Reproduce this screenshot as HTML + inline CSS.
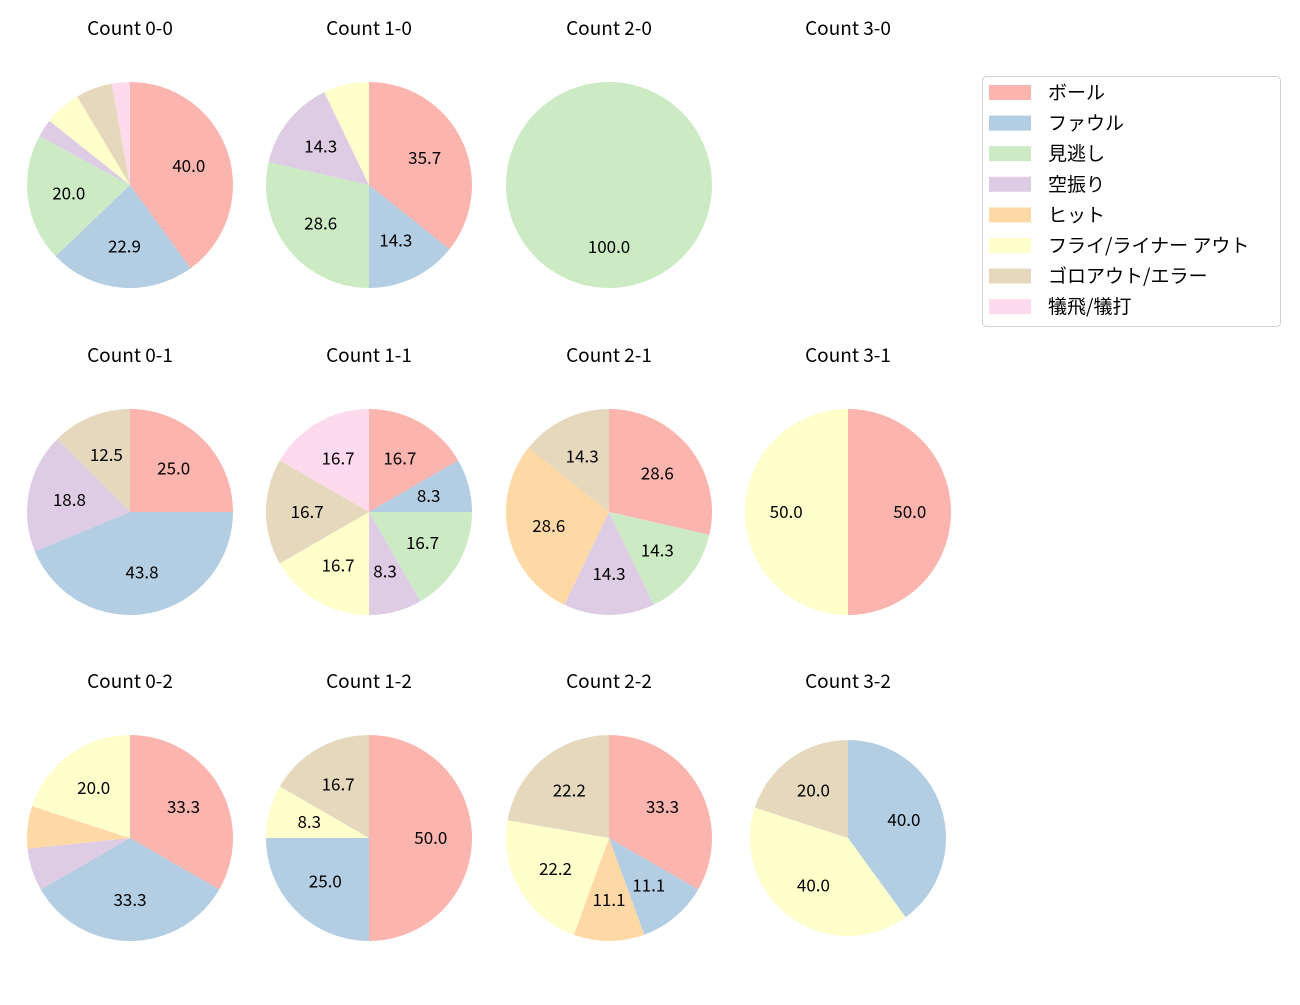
<!DOCTYPE html>
<html><head><meta charset="utf-8"><style>
html,body{margin:0;padding:0;background:#fff}
svg text{font-family:"Noto Sans CJK JP","DejaVu Sans",sans-serif;fill:#000}
</style></head><body>
<svg id="chart" width="1300" height="1000" viewBox="0 0 1300 1000" xmlns="http://www.w3.org/2000/svg"></svg>
<script>
const categories = ["ボール","ファウル","見逃し","空振り","ヒット","フライ/ライナー アウト","ゴロアウト/エラー","犠飛/犠打"];
const colors = ["#fbb4ae","#b3cde3","#ccebc5","#decbe4","#fed9a6","#ffffcc","#e5d8bd","#fddaec"];
const titles = ["Count 0-0","Count 1-0","Count 2-0","Count 3-0","Count 0-1","Count 1-1","Count 2-1","Count 3-1","Count 0-2","Count 1-2","Count 2-2","Count 3-2"];
const counts00 = [14,8,7,1,0,2,2,1];
const counts10 = [5,2,4,2,0,1,0,0];
const counts20 = [0,0,1,0,0,0,0,0];
const counts30 = [0,0,0,0,0,0,0,0];
const counts01 = [4,7,0,3,0,0,2,0];
const counts11 = [2,1,2,1,0,2,2,2];
const counts21 = [2,0,1,1,2,0,1,0];
const counts31 = [1,0,0,0,0,1,0,0];
const counts02 = [5,5,0,1,1,3,0,0];
const counts12 = [6,3,0,0,0,1,2,0];
const counts22 = [3,1,0,0,1,2,2,0];
const counts32 = [0,2,0,0,0,2,1,0];
const allCounts = [counts00,counts10,counts20,counts30,counts01,counts11,counts21,counts31,counts02,counts12,counts22,counts32];

const NS="http://www.w3.org/2000/svg";
const svg=document.getElementById('chart');
function mk(tag,attrs){const e=document.createElementNS(NS,tag);for(const k in attrs)e.setAttribute(k,attrs[k]);return e;}
const colX=[130,369,609,848], rowY=[185,512,838];
allCounts.forEach((cnt,i)=>{
  const cx=colX[i%4], cy=rowY[Math.floor(i/4)];
  const r = (i===11)?98:103;
  const g=mk('g',{});
  
  
  svg.appendChild(g);
  const t=mk('text',{x:cx,y:cy-150,'text-anchor':'middle','font-size':'19'});
  
  
  t.textContent=titles[i];
  g.appendChild(t);
  const total=cnt.reduce((a,b)=>a+b,0);
  if(!total) return;
  let a0=0;
  cnt.forEach((v,k)=>{
    if(v<=0) return;
    const frac=v/total, a1=a0+frac*2*Math.PI;
    let el;
    if(frac>=0.9999){
      el=mk('circle',{cx:cx,cy:cy,r:r,fill:colors[k]});
    } else {
      const x0=cx+r*Math.sin(a0), y0=cy-r*Math.cos(a0);
      const x1=cx+r*Math.sin(a1), y1=cy-r*Math.cos(a1);
      el=mk('path',{d:`M${cx},${cy} L${x0},${y0} A${r},${r} 0 ${frac>0.5?1:0} 1 ${x1},${y1} Z`,fill:colors[k]});
    }
    
    
    g.appendChild(el);
    const pct=frac*100;
    if(pct>=8){
      const am=(a0+a1)/2;
      const lx=cx+0.6*r*Math.sin(am), ly=cy-0.6*r*Math.cos(am);
      const lt=mk('text',{x:lx,y:ly+6,'text-anchor':'middle','font-size':'17'});
      
      
      lt.textContent=pct.toFixed(1);
      g.appendChild(lt);
    }
    a0=a1;
  });
});
const lg=mk('g',{});


svg.appendChild(lg);
lg.appendChild(mk('rect',{x:982.5,y:76.5,width:298,height:250,rx:4,fill:'#fff',stroke:'#d0d0d0'}));
categories.forEach((c,k)=>{
  const y=92+k*30.6;
  const p=mk('rect',{x:989,y:y-7,width:42,height:15,fill:colors[k]});
  
  
  lg.appendChild(p);
  const t=mk('text',{x:1048,y:y+7,'font-size':'19'});
  
  
  t.textContent=c;
  lg.appendChild(t);
});
</script>
</body></html>
